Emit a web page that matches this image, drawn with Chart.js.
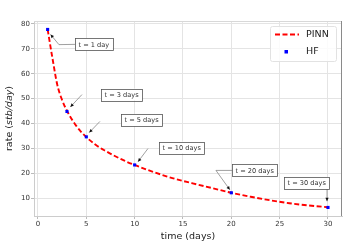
<!DOCTYPE html>
<html><head><meta charset="utf-8">
<script src="https://cdn.jsdelivr.net/npm/chart.js@4/dist/chart.umd.min.js"></script>
<style>html,body{margin:0;padding:0;background:#fff}canvas{display:block}</style>
</head><body>
<canvas id="c" width="357" height="246"></canvas>
<script>
// ---- data ----
const pinnT = [1,1.5,2,2.5,3,4,5,6,7,8,9,10,12,14,16,18,20,22,24,26,28,30];
const pinnRate = [77.8,66.2,55.5,49.4,45.1,38.8,34.5,31.3,28.9,26.8,24.9,23.3,20.4,17.9,15.9,14.0,12.1,10.5,9.1,7.9,7.0,6.3];
const hfT = [1,3,5,10,20,30];
const hfRate = [77.8,44.8,34.6,23.3,12.1,6.2];
const xTicks = [0,5,10,15,20,25,30];
const yTicks = [10,20,30,40,50,60,70,80];
const annLabels = ['t = 1 day','t = 3 days','t = 5 days','t = 10 days','t = 20 days','t = 30 days'];
// annotation geometry in data units: box left-middle anchor, arrow path
const annGeom = [
  {box:[3.83,71.8], fromBox:true,  path:[[2.17,71.7],[1.3,75.8]]},
  {box:[6.52,51.6], fromBox:false, path:[[4.55,51.6],[3.35,46.6]]},
  {box:[8.59,41.4], fromBox:false, path:[[6.41,40.8],[5.3,36.3]]},
  {box:[12.52,30.3],fromBox:false, path:[[11.38,29.9],[10.35,24.6]]},
  {box:[20.07,21.1],fromBox:true,  path:[[18.41,21.1],[19.85,13.3]]},
  {box:[25.45,16.0],fromBox:false, path:[[29.9,13.6],[29.9,8.7]]}
];

const FONT = "'DejaVu Sans', sans-serif";

const decor = {
  id:'decor',
  afterDatasetsDraw(chart){
    const ctx = chart.ctx, ca = chart.chartArea;
    const xs = chart.scales.x, ys = chart.scales.y;
    ctx.save();
    // frame top & right
    ctx.lineWidth = 1;
    ctx.strokeStyle = '#d8d8d8';
    ctx.beginPath(); ctx.moveTo(ca.left, ca.top+0.5); ctx.lineTo(ca.right, ca.top+0.5); ctx.stroke();
    ctx.strokeStyle = '#8a8a8a';
    ctx.beginPath(); ctx.moveTo(ca.right-0.5, ca.top); ctx.lineTo(ca.right-0.5, ca.bottom); ctx.stroke();

    // annotations
    ctx.font = '6.6px ' + FONT;
    annGeom.forEach((g,i)=>{
      const txt = annLabels[i];
      const bx = xs.getPixelForValue(g.box[0]);
      const by = ys.getPixelForValue(g.box[1]);
      const tw = ctx.measureText(txt).width;
      const padX = 3.5, h = 12;
      const pts = g.path.map(p=>[xs.getPixelForValue(p[0]), ys.getPixelForValue(p[1])]);
      if (g.fromBox) pts.unshift([bx, by]);
      // arrow line
      ctx.strokeStyle = '#777'; ctx.lineWidth = 0.7;
      ctx.beginPath();
      ctx.moveTo(pts[0][0], pts[0][1]);
      for (let k=1;k<pts.length;k++) ctx.lineTo(pts[k][0], pts[k][1]);
      ctx.stroke();
      // arrow head
      const a = pts[pts.length-2], b = pts[pts.length-1];
      const ang = Math.atan2(b[1]-a[1], b[0]-a[0]);
      const L = 3.5, W = 1.6;
      ctx.fillStyle = '#111';
      ctx.beginPath();
      ctx.moveTo(b[0], b[1]);
      ctx.lineTo(b[0]-L*Math.cos(ang)+W*Math.sin(ang), b[1]-L*Math.sin(ang)-W*Math.cos(ang));
      ctx.lineTo(b[0]-L*Math.cos(ang)-W*Math.sin(ang), b[1]-L*Math.sin(ang)+W*Math.cos(ang));
      ctx.closePath(); ctx.fill();
      // box
      const w = tw + 2*padX;
      ctx.fillStyle = '#fff';
      ctx.fillRect(bx, by-h/2, w, h);
      ctx.strokeStyle = '#555'; ctx.lineWidth = 0.8;
      ctx.strokeRect(Math.round(bx)+0.5, Math.round(by-h/2)+0.5, Math.round(w), h);
      ctx.fillStyle = '#333';
      ctx.textAlign = 'left'; ctx.textBaseline = 'middle';
      ctx.fillText(txt, bx+padX, by+0.5);
    });

    // legend
    const lx = 270, ly = 26, lw = 66, lh = 35;
    ctx.fillStyle = 'rgba(255,255,255,0.85)';
    ctx.strokeStyle = '#e2e2e2'; ctx.lineWidth = 1;
    ctx.beginPath();
    if (ctx.roundRect) ctx.roundRect(lx+0.5, ly+0.5, lw, lh, 2); else ctx.rect(lx+0.5, ly+0.5, lw, lh);
    ctx.fill(); ctx.stroke();
    ctx.strokeStyle = '#ff0000'; ctx.lineWidth = 2; ctx.setLineDash([5,2.5]);
    ctx.beginPath(); ctx.moveTo(275, 34.5); ctx.lineTo(299, 34.5); ctx.stroke();
    ctx.setLineDash([]);
    ctx.fillStyle = '#0000ff';
    ctx.fillRect(284.5, 50, 3.5, 3.5);
    ctx.fillStyle = '#222';
    ctx.font = '9.5px ' + FONT; ctx.textAlign = 'left'; ctx.textBaseline = 'middle';
    ctx.fillText(chart.data.datasets[0].label, 306, 34.5);
    ctx.fillText(chart.data.datasets[1].label, 306, 52);

    // axis titles
    ctx.fillStyle = '#222';
    ctx.font = '9.5px ' + FONT; ctx.textAlign = 'center'; ctx.textBaseline = 'middle';
    ctx.fillText('time (days)', (ca.left+ca.right)/2, 237);
    ctx.save();
    ctx.translate(10, (ca.top+ca.bottom)/2);
    ctx.rotate(-Math.PI/2);
    const p1 = 'rate (', p2 = 'stb/day', p3 = ')';
    ctx.font = '9.5px ' + FONT; const w1 = ctx.measureText(p1).width, w3 = ctx.measureText(p3).width;
    ctx.font = 'italic 9.5px ' + FONT; const w2 = ctx.measureText(p2).width;
    let sx = -(w1+w2+w3)/2;
    ctx.textAlign = 'left';
    ctx.font = '9.5px ' + FONT; ctx.fillText(p1, sx, 0); sx += w1;
    ctx.font = 'italic 9.5px ' + FONT; ctx.fillText(p2, sx, 0); sx += w2;
    ctx.font = '9.5px ' + FONT; ctx.fillText(p3, sx, 0);
    ctx.restore();
    ctx.restore();
  }
};

new Chart(document.getElementById('c'), {
  type:'line',
  data:{
    datasets:[
      {label:'PINN', data:pinnT.map((t,i)=>({x:t,y:pinnRate[i]})), borderColor:'#ff0000', borderWidth:1.9,
       borderDash:[5,2.5], pointRadius:0, fill:false, cubicInterpolationMode:'monotone', order:2},
      {label:'HF', data:hfT.map((t,i)=>({x:t,y:hfRate[i]})), showLine:false, pointStyle:'rect',
       pointRadius:2.2, backgroundColor:'#0000ff', borderColor:'#0000ff', borderWidth:0, order:1}
    ]
  },
  options:{
    responsive:false, animation:false, devicePixelRatio:1,
    layout:{padding:{top:21,right:15,left:0,bottom:0}},
    plugins:{legend:{display:false}, tooltip:{enabled:false}},
    scales:{
      x:{type:'linear', min:-0.41, max:31.45,
         afterBuildTicks(s){ s.ticks = xTicks.map(v=>({value:v})); },
         afterFit(s){ s.height = 30; },
         grid:{color:'#e4e4e4', tickLength:3, tickColor:'#bbb'},
         border:{color:'#cccccc'},
         ticks:{font:{family:FONT,size:7}, color:'#333', padding:1, maxRotation:0, autoSkip:false}},
      y:{type:'linear', min:2.76, max:81.2,
         afterBuildTicks(s){ s.ticks = yTicks.map(v=>({value:v})); },
         afterFit(s){ s.width = 34; },
         grid:{color:'#e4e4e4', tickLength:3, tickColor:'#bbb'},
         border:{color:'#cccccc'},
         ticks:{font:{family:FONT,size:7}, color:'#333', padding:1, autoSkip:false}}
    }
  },
  plugins:[decor]
});
</script>
</body></html>
